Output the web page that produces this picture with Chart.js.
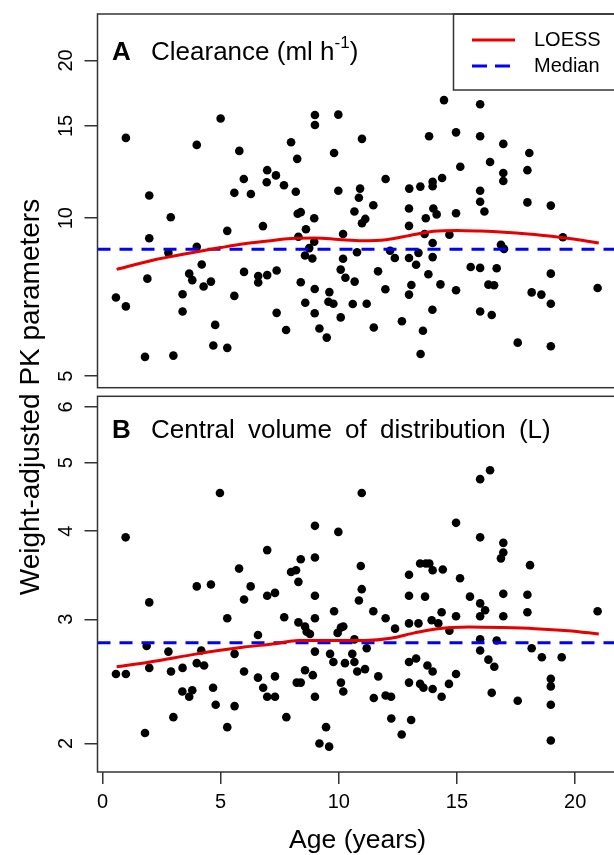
<!DOCTYPE html>
<html>
<head>
<meta charset="utf-8">
<title>Weight-adjusted PK parameters by age</title>
<script src="https://cdn.jsdelivr.net/npm/chart.js"></script>
<style>
  body { margin: 0; background: #fff; }
  #wrap { position: relative; width: 614px; height: 855px; overflow: hidden;
          font-family: "Liberation Sans", Arial, sans-serif; color: #000; }
  canvas { position: absolute; left: 0; }
  #chartA { top: 0; }
  #chartB { top: 392px; }
  #ytitle { position: absolute; left: -270px; top: 381px; width: 600px; height: 32px;
            line-height: 32px; text-align: center; font-size: 28px;
            transform: rotate(-90deg); white-space: nowrap; }
</style>
</head>
<body>
<div id="wrap">
  <canvas id="chartA" width="622" height="392"></canvas>
  <canvas id="chartB" width="622" height="463"></canvas>
  <div id="ytitle">Weight-adjusted PK parameters</div>
</div>

<script>
  const FONT = '"Liberation Sans", Arial, sans-serif';

  // ---- data ----
  // panel A: clearance (ml/h, weight adjusted) vs age
  const ageA = [0.99, 5.00, 3.99, 5.79, 6.97, 5.98, 6.95, 5.58, 6.28, 1.98,
    8.99, 8.99, 9.98, 13.82, 10.98, 7.98, 9.80, 8.24, 7.34, 7.68,
    8.18, 9.98, 10.90, 10.85, 11.98, 12.98, 13.45, 13.97, 13.97, 11.46,
    14.45, 15.98, 14.96, 15.98, 16.96, 18.06, 15.14, 16.40, 16.96, 16.96,
    17.98, 14.37, 15.98, 15.98, 17.98, 18.97, 2.89, 1.98, 5.28, 6.79,
    2.79, 3.99, 1.90, 3.67, 3.80, 4.20, 4.28, 4.59, 5.99, 6.59,
    6.59, 6.97, 0.57, 0.99, 3.39, 5.58, 3.39, 4.77, 4.69, 5.28,
    1.80, 3.00, 12.97, 14.00, 10.66, 10.98, 11.12, 8.26, 8.39, 8.96,
    12.97, 13.68, 14.14, 8.61, 8.29, 8.96, 10.18, 13.63, 13.97, 8.75,
    8.57, 8.88, 10.18, 10.77, 12.17, 12.37, 12.97, 13.37, 13.27, 13.97,
    13.79, 7.37, 10.08, 10.28, 10.67, 11.66, 8.39, 8.98, 11.97, 13.07,
    12.97, 14.30, 9.60, 9.56, 9.77, 8.58, 8.98, 10.59, 11.18, 7.37,
    10.08, 13.96, 7.77, 9.18, 9.49, 11.48, 12.67, 13.56, 13.46, 14.96,
    16.16, 14.68, 16.86, 16.99, 19.48, 15.58, 15.98, 16.68, 18.97, 16.33,
    16.57, 14.96, 18.16, 18.57, 18.97, 20.95, 15.98, 16.47, 17.57, 18.97];
  const clearance = [14.23, 15.5, 13.8, 13.44, 12.35, 11.88, 11.71, 11.18, 11.12, 11.05,
    15.74, 15.06, 15.76, 14.33, 14.17, 13.96, 13.32, 12.98, 12.07, 11.56,
    11.23, 11.28, 11.39, 10.94, 11.88, 11.39, 11.49, 11.74, 11.51, 10.59,
    16.8, 16.5, 14.58, 14.33, 13.86, 13.32, 12.54, 12.8, 12.2, 11.78,
    12.35, 11.93, 11.28, 10.75, 10.72, 10.57, 10.04, 9.16, 9.46, 9.66,
    8.59, 8.82, 7.67, 7.84, 7.62, 8.16, 7.41, 7.57, 7.90, 7.76,
    7.54, 7.79, 7.06, 6.79, 7.16, 7.11, 6.64, 6.26, 5.72, 5.66,
    5.44, 5.47, 10.44, 10.44, 10.3, 9.78, 9.97, 10.2, 10.27, 10.0,
    9.67, 10.0, 10.17, 9.53, 9.22, 9.02, 9.33, 9.33, 8.97, 8.77,
    8.49, 8.38, 8.37, 8.61, 8.67, 8.40, 8.40, 8.59, 8.15, 8.43,
    7.82, 7.95, 7.98, 7.70, 7.57, 7.92, 7.55, 7.33, 7.32, 7.46,
    7.15, 7.48, 7.23, 6.93, 6.87, 6.90, 6.59, 6.86, 6.87, 6.60,
    6.47, 6.69, 6.12, 6.16, 5.92, 6.19, 6.36, 6.10, 5.51, 10.22,
    10.3, 9.3, 8.9, 8.74, 9.2, 8.07, 8.04, 8.03, 7.84, 7.47,
    7.45, 7.29, 7.22, 7.15, 6.87, 7.36, 6.64, 6.54, 5.79, 5.70];

  // panel B: central volume of distribution (L, weight adjusted) vs age
  const ageB = [0.98, 4.97, 6.97, 5.78, 4.59, 3.99, 6.27, 5.99, 6.97, 7.30,
    1.98, 5.28, 6.58, 1.87, 2.79, 4.18, 5.59, 1.98, 2.90, 3.39,
    3.99, 4.30, 5.99, 6.58, 7.30, 0.57, 0.99, 3.38, 3.67, 3.80,
    4.68, 6.80, 6.97, 7.30, 4.79, 5.59, 3.00, 5.28, 1.80,
    10.97, 8.99, 9.98, 8.39, 8.99, 7.98, 8.19, 8.29, 10.93, 10.97,
    10.85, 8.99, 12.97, 13.44, 13.68, 13.83, 13.97, 14.40, 12.97, 13.65,
    7.69, 9.80, 11.46, 11.98, 12.38, 12.97, 13.37, 13.93, 14.21, 14.35,
    8.29, 8.57, 8.64, 8.78, 8.99, 9.95, 10.09, 10.19, 10.66, 8.99,
    9.63, 9.77, 10.26, 10.57, 10.66, 10.78, 11.11, 11.18, 8.57, 8.90,
    8.22, 8.39, 8.99, 10.09, 10.19, 11.67, 11.48, 11.98, 12.21, 7.78,
    9.46, 9.18, 9.59, 12.22, 12.66, 13.06, 12.97, 13.27, 13.75, 13.97,
    12.97, 13.44, 13.58, 13.97, 14.35,
    15.98, 16.40, 14.96, 15.98, 16.96, 16.96, 16.86, 18.09, 15.13, 15.55,
    15.98, 16.19, 16.96, 17.98, 14.96, 15.98, 16.96, 17.98, 20.95, 14.68,
    15.98, 16.68, 15.98, 18.16, 16.33, 16.58, 18.59, 19.43, 14.96, 14.66,
    16.47, 17.57, 18.97, 18.97, 18.97, 18.97];
  const volume = [3.92, 4.53, 3.76, 3.54, 3.36, 3.34, 3.34, 3.20, 3.24, 3.27,
    3.17, 3.01, 2.85, 2.75, 2.70, 2.71, 2.68, 2.56, 2.53, 2.56,
    2.60, 2.58, 2.53, 2.48, 2.49, 2.51, 2.51, 2.37, 2.33, 2.38,
    2.40, 2.40, 2.33, 2.33, 2.27, 2.26, 2.18, 2.11, 2.07,
    4.53, 4.07, 3.99, 3.65, 3.67, 3.50, 3.52, 3.39, 3.57, 3.31,
    3.19, 3.24, 3.47, 3.60, 3.60, 3.60, 3.52, 3.53, 3.24, 3.23,
    3.02, 3.08, 3.08, 3.01, 2.91, 2.96, 2.96, 2.99, 2.96, 3.07,
    2.97, 2.93, 2.88, 2.86, 3.01, 2.87, 2.92, 2.93, 2.81, 2.70,
    2.68, 2.61, 2.60, 2.68, 2.61, 2.53, 2.55, 2.73, 2.54, 2.50,
    2.44, 2.44, 2.33, 2.44, 2.37, 2.49, 2.32, 2.34, 2.33, 2.18,
    2.11, 2.00, 1.98, 2.17, 2.06, 2.16, 2.61, 2.64, 2.58, 2.53,
    2.44, 2.43, 2.40, 2.39, 2.33,
    4.74, 4.88, 4.11, 3.92, 3.85, 3.73, 3.66, 3.58, 3.43, 3.23,
    3.16, 3.09, 3.26, 3.25, 3.03, 3.03, 3.03, 3.07, 3.08, 2.89,
    2.81, 2.80, 2.71, 2.73, 2.63, 2.57, 2.65, 2.65, 2.51, 2.43,
    2.36, 2.30, 2.47, 2.41, 2.27, 2.02];

  // LOESS curves and medians
  const loessAgeA = [0.6, 2, 4, 5, 6, 7, 8, 9, 10, 11, 12, 13, 14, 15, 16, 17, 18, 19, 20, 21];
  const loessA = [7.99, 8.29, 8.63, 8.79, 8.94, 9.05, 9.15, 9.17, 9.11, 9.06,
    9.10, 9.27, 9.44, 9.48, 9.45, 9.40, 9.33, 9.24, 9.12, 8.97];
  const loessAgeB = [0.6, 2, 4, 6, 7.3, 8.3, 9.7, 11.1, 12.2, 13.2, 14.2, 15.5, 16.9, 18.3, 19.7, 21];
  const loessB = [2.57, 2.61, 2.68, 2.74, 2.77, 2.80, 2.80, 2.80, 2.82, 2.87,
    2.91, 2.925, 2.92, 2.91, 2.89, 2.86];
  const medianA = 8.73;
  const medianB = 2.78;

  // axes
  const xTicks = [0, 5, 10, 15, 20];
  const yTicksA = [5, 10, 15, 20];
  const yTicksB = [2, 3, 4, 5, 6];
  const X_MIN = -0.21, X_MAX = 21.8;

  const pts = (xs, ys) => xs.map((x, i) => ({ x: x, y: ys[i] }));

  function datasets(ages, vals, lAges, lVals, med) {
    return [
      { type: 'line', data: pts(lAges, lVals), borderColor: '#e80000', borderWidth: 3,
        pointRadius: 0, fill: false, cubicInterpolationMode: 'monotone', order: 0 },
      { type: 'line', data: [{ x: X_MIN, y: med }, { x: X_MAX, y: med }], borderColor: '#0000ff',
        borderWidth: 3, borderDash: [13, 9], pointRadius: 0, fill: false, order: 1 },
      { type: 'scatter', data: pts(ages, vals), backgroundColor: '#000', borderWidth: 0,
        pointRadius: 4.3, order: 2 }
    ];
  }

  // box, rotated y tick labels, panel title (and legend for panel A)
  function panelPlugin(p) {
    return {
      id: 'panel' + p.letter,
      afterDraw(chart) {
        const ctx = chart.ctx, a = chart.chartArea, ys = chart.scales.y;
        ctx.save();
        ctx.strokeStyle = '#333';
        ctx.lineWidth = 1.5;
        ctx.strokeRect(a.left, a.top, a.right - a.left, a.bottom - a.top);

        ctx.fillStyle = '#000';
        ctx.font = '20px ' + FONT;
        ctx.textAlign = 'center';
        ctx.textBaseline = 'middle';
        ys.ticks.forEach(t => {
          ctx.save();
          ctx.translate(66, ys.getPixelForValue(t.value));
          ctx.rotate(-Math.PI / 2);
          ctx.fillText(String(t.value), 0, 0);
          ctx.restore();
        });

        ctx.textAlign = 'left';
        ctx.textBaseline = 'alphabetic';
        ctx.font = 'bold 26px ' + FONT;
        ctx.fillText(p.letter, 112, p.baseY);
        ctx.font = '26px ' + FONT;
        if ('wordSpacing' in ctx) ctx.wordSpacing = p.wordSpacing || '0px';
        ctx.fillText(p.title, 151, p.baseY);
        let x = 151 + ctx.measureText(p.title).width;
        if (p.sup) {
          ctx.font = '17px ' + FONT;
          ctx.fillText(p.sup, x, p.baseY - 12);
          x += ctx.measureText(p.sup).width;
          ctx.font = '26px ' + FONT;
          ctx.fillText(p.tail, x, p.baseY);
        }
        if ('wordSpacing' in ctx) ctx.wordSpacing = '0px';

        if (p.legend) {
          ctx.lineWidth = 1.5;
          ctx.strokeStyle = '#333';
          ctx.strokeRect(453.5, a.top, 200, 76);
          ctx.lineWidth = 3;
          ctx.strokeStyle = '#e80000';
          ctx.beginPath(); ctx.moveTo(472, 40); ctx.lineTo(515, 40); ctx.stroke();
          ctx.strokeStyle = '#0000ff';
          ctx.setLineDash([15, 8]);
          ctx.beginPath(); ctx.moveTo(472, 66); ctx.lineTo(510, 66); ctx.stroke();
          ctx.setLineDash([]);
          ctx.font = '20px ' + FONT;
          ctx.textBaseline = 'middle';
          ctx.fillText('LOESS', 534, 40);
          ctx.fillText('Median', 534, 66);
        }
        ctx.restore();
      }
    };
  }

  function yScale(min, max, ticks) {
    return {
      type: 'logarithmic', min: min, max: max,
      afterBuildTicks: s => { s.ticks = ticks.map(v => ({ value: v })); },
      afterFit: s => { s.width = 97.5; },
      ticks: { display: false },
      border: { display: false },
      grid: { drawOnChartArea: false, drawTicks: true, tickLength: 13, color: '#333', lineWidth: 1.5 }
    };
  }

  new Chart(document.getElementById('chartA'), {
    type: 'scatter',
    data: { datasets: datasets(ageA, clearance, loessAgeA, loessA, medianA) },
    options: {
      responsive: false, animation: false, events: [],
      layout: { padding: { top: 14, bottom: 1, left: 0, right: 4 } },
      plugins: { legend: { display: false }, tooltip: { enabled: false } },
      scales: {
        x: { type: 'linear', min: X_MIN, max: X_MAX, display: false },
        y: yScale(4.751, 24.52, yTicksA)
      }
    },
    plugins: [panelPlugin({ letter: 'A', title: 'Clearance (ml h', sup: '-1', tail: ')', baseY: 60, legend: true })]
  });

  new Chart(document.getElementById('chartB'), {
    type: 'scatter',
    data: { datasets: datasets(ageB, volume, loessAgeB, loessB, medianB) },
    options: {
      responsive: false, animation: false, events: [],
      layout: { padding: { top: 1, bottom: 0, left: 0, right: 4 } },
      plugins: { legend: { display: false }, tooltip: { enabled: false } },
      scales: {
        x: {
          type: 'linear', min: X_MIN, max: X_MAX, position: 'bottom',
          afterBuildTicks: s => { s.ticks = xTicks.map(v => ({ value: v })); },
          afterFit: s => { s.height = 83; },
          ticks: { color: '#000', font: { family: FONT, size: 20 }, padding: 6, maxRotation: 0 },
          border: { display: false },
          grid: { drawOnChartArea: false, tickLength: 12, color: '#333', lineWidth: 1.5 },
          title: { display: true, text: 'Age (years)', color: '#000',
                   font: { family: FONT, size: 26.5, lineHeight: 1.1 }, padding: { top: 0, bottom: 0 } }
        },
        y: yScale(1.8227, 6.211, yTicksB)
      }
    },
    plugins: [panelPlugin({ letter: 'B', title: 'Central volume of distribution (L)', wordSpacing: '6px', baseY: 46 })]
  });
</script>
</body>
</html>
